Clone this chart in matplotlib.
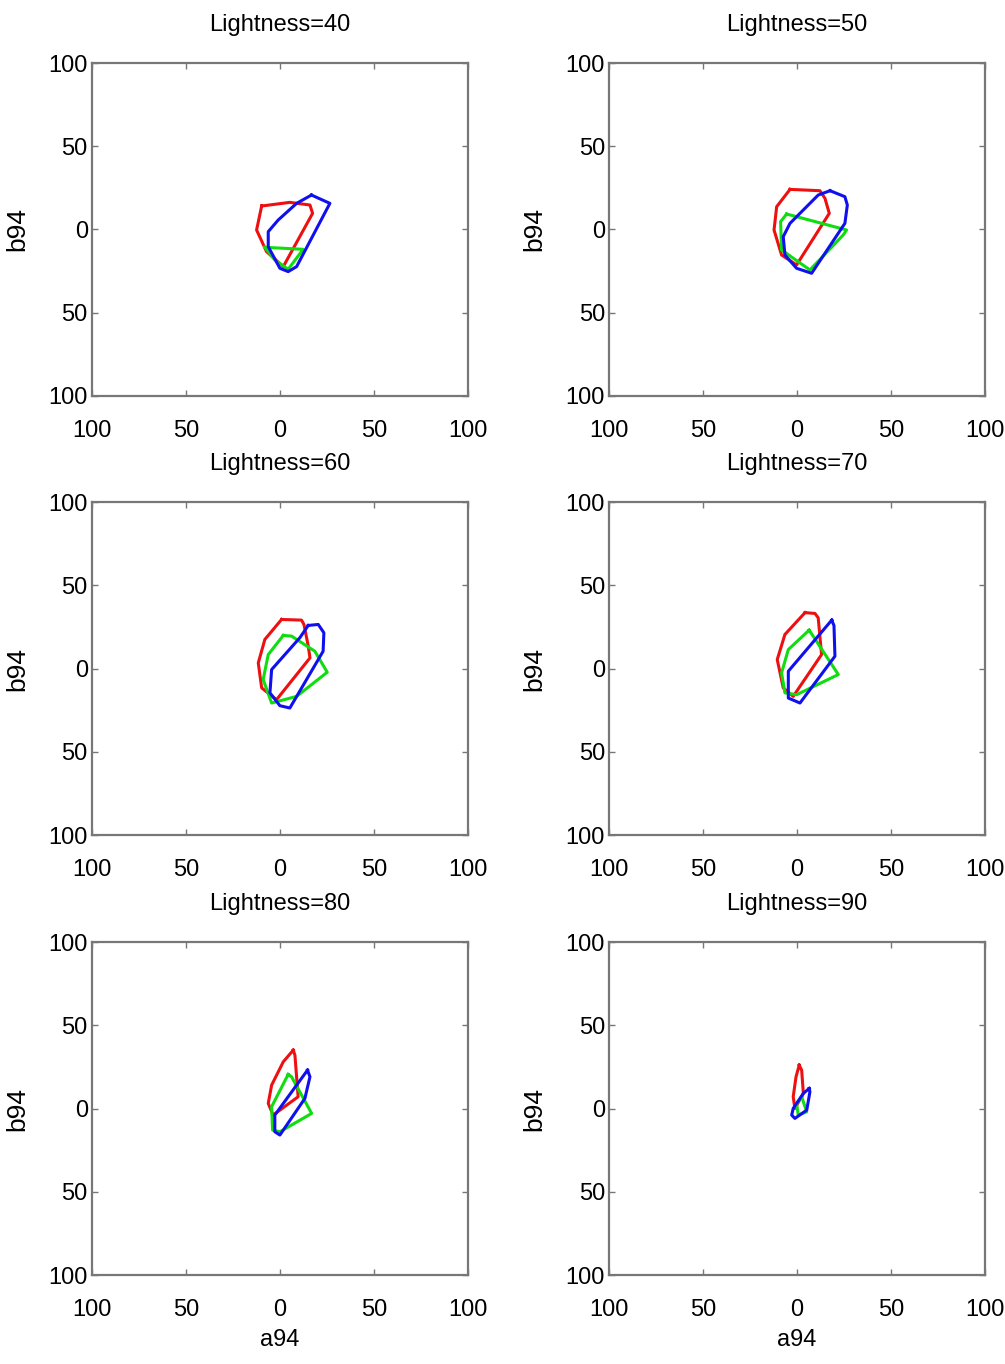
import matplotlib
matplotlib.use("Agg")
import matplotlib.pyplot as plt

# polygones de gamut dans le plan (a94, b94), un par luminance
lightness = [40, 50, 60, 70, 80, 90]

red_40 = [(-9.7, 14.1), (5.3, 16.3), (16.0, 14.7), (17.4, 9.7), (1.8, -22.3),
          (-7.1, -13.3), (-12.4, -0.3)]
green_40 = [(-8.0, -10.7), (12.4, -11.9), (4.4, -23.9), (-2.7, -18.3)]
blue_40 = [(16.8, 20.7), (26.6, 15.7), (8.9, -22.3), (4.4, -25.3), (0.0, -23.3),
           (-6.2, -10.3), (-6.2, -1.3), (-0.9, 5.7), (8.9, 15.7)]

red_50 = [(-3.7, 24.1), (12.2, 23.3), (14.9, 18.7), (17.2, 9.7), (-0.2, -21.3),
          (-8.2, -15.3), (-12.2, -0.3), (-10.8, 13.7)]
green_50 = [(-5.5, 9.3), (26.4, -0.3), (24.6, -3.3), (6.9, -24.3),
            (-8.2, -12.3), (-8.7, 4.7)]
blue_50 = [(17.6, 23.3), (25.5, 19.7), (26.8, 14.7), (25.5, 3.7), (7.8, -26.3),
           (-0.2, -23.3), (-6.4, -15.3), (-7.3, -4.3), (-3.7, 3.7), (11.3, 20.7)]

red_60 = [(0.9, 29.5), (11.5, 29.1), (12.8, 26.5), (15.1, 13.4), (16.0, 6.4),
          (-1.8, -18.7), (-9.7, -11.6), (-11.5, 3.4), (-8.0, 17.5)]
green_60 = [(1.8, 19.9), (6.2, 19.5), (18.6, 10.4), (25.2, -2.2), (8.9, -16.7),
            (-4.4, -20.7), (-8.9, -6.6), (-6.2, 8.4)]
blue_60 = [(15.1, 25.9), (20.4, 26.5), (23.4, 21.5), (23.0, 10.4), (5.3, -23.7),
           (0.0, -22.3), (-5.3, -14.6), (-4.4, -0.6), (10.6, 18.5)]

red_70 = [(4.3, 33.6), (9.6, 33.1), (11.3, 30.5), (13.1, 8.4), (-2.0, -16.7),
          (-7.3, -11.6), (-10.5, 5.4), (-6.4, 20.5)]
green_70 = [(6.5, 23.1), (22.0, -3.6), (-0.2, -15.7), (-6.4, -14.6),
            (-8.2, -2.6), (-4.6, 11.4)]
blue_70 = [(18.5, 29.1), (19.7, 25.8), (20.2, 7.4), (1.6, -20.7), (-4.6, -17.7),
           (-4.6, -1.6)]

red_80 = [(7.1, 35.1), (8.0, 32.1), (9.7, 7.1), (-3.6, -3.9), (-6.2, 3.1),
          (-4.4, 14.1), (1.8, 28.1)]
green_80 = [(4.4, 20.5), (6.2, 19.1), (16.9, -2.9), (0.0, -13.9), (-3.9, -12.9),
            (-4.4, 1.1)]
blue_80 = [(14.7, 23.1), (16.0, 19.1), (13.3, 6.1), (0.0, -15.9), (-2.7, -13.9),
           (-2.7, -3.9)]

red_90 = [(1.2, 26.1), (2.5, 23.1), (3.4, 9.1), (-1.1, 0.1), (-2.0, 7.1),
          (-0.5, 19.1)]
green_90 = [(2.5, 7.1), (5.2, -1.9), (0.7, -3.9), (-0.2, 3.1)]
blue_90 = [(6.5, 12.1), (6.9, 10.1), (5.2, -0.9), (-1.1, -5.9), (-2.8, -3.9),
           (-2.0, 0.1), (3.4, 9.1)]

gamuts = {40: (red_40, green_40, blue_40), 50: (red_50, green_50, blue_50),
          60: (red_60, green_60, blue_60), 70: (red_70, green_70, blue_70),
          80: (red_80, green_80, blue_80), 90: (red_90, green_90, blue_90)}

ticks = [-100, -50, 0, 50, 100]
tick_labels = ["100", "50", "0", "50", "100"]  # signes moins absents sur l'original

plt.rcParams['font.family'] = ['Liberation Sans', 'DejaVu Sans']

fig = plt.figure(figsize=(10.05, 13.64), dpi=100)
lefts = [0.0915, 0.606]
bottoms = [0.7097, 0.3878, 0.0652]
w, h = 0.374, 0.2441
colours = ["#ee1010", "#10dd10", "#1010ee"]

for i, L in enumerate(lightness):
    ax = fig.add_axes([lefts[i % 2], bottoms[i // 2], w, h])
    for pts, c in zip(gamuts[L], colours):
        xs = [p[0] for p in pts] + [pts[0][0]]
        ys = [p[1] for p in pts] + [pts[0][1]]
        ax.plot(xs, ys, color=c, lw=2.2, solid_joinstyle="round")
    ax.set_xlim(-100, 100)
    ax.set_ylim(-100, 100)
    ax.set_xticks(ticks)
    ax.set_yticks(ticks)
    ax.set_xticklabels(tick_labels, fontsize=17)
    ax.set_yticklabels(tick_labels, fontsize=17)
    ax.tick_params(direction="in", length=4, width=1, color="#777777",
                   top=True, right=True, pad=3)
    ax.tick_params(axis="x", pad=17)
    for s in ax.spines.values():
        s.set_color("#777777")
        s.set_linewidth(1.6)
    ax.set_title("Lightness=%d" % L, fontsize=17, pad=23)
    ax.set_ylabel("b94", fontsize=19, labelpad=14)
    if i >= 4:
        ax.set_xlabel("a94", fontsize=17, labelpad=6)

fig.savefig("out.png", dpi=100)
